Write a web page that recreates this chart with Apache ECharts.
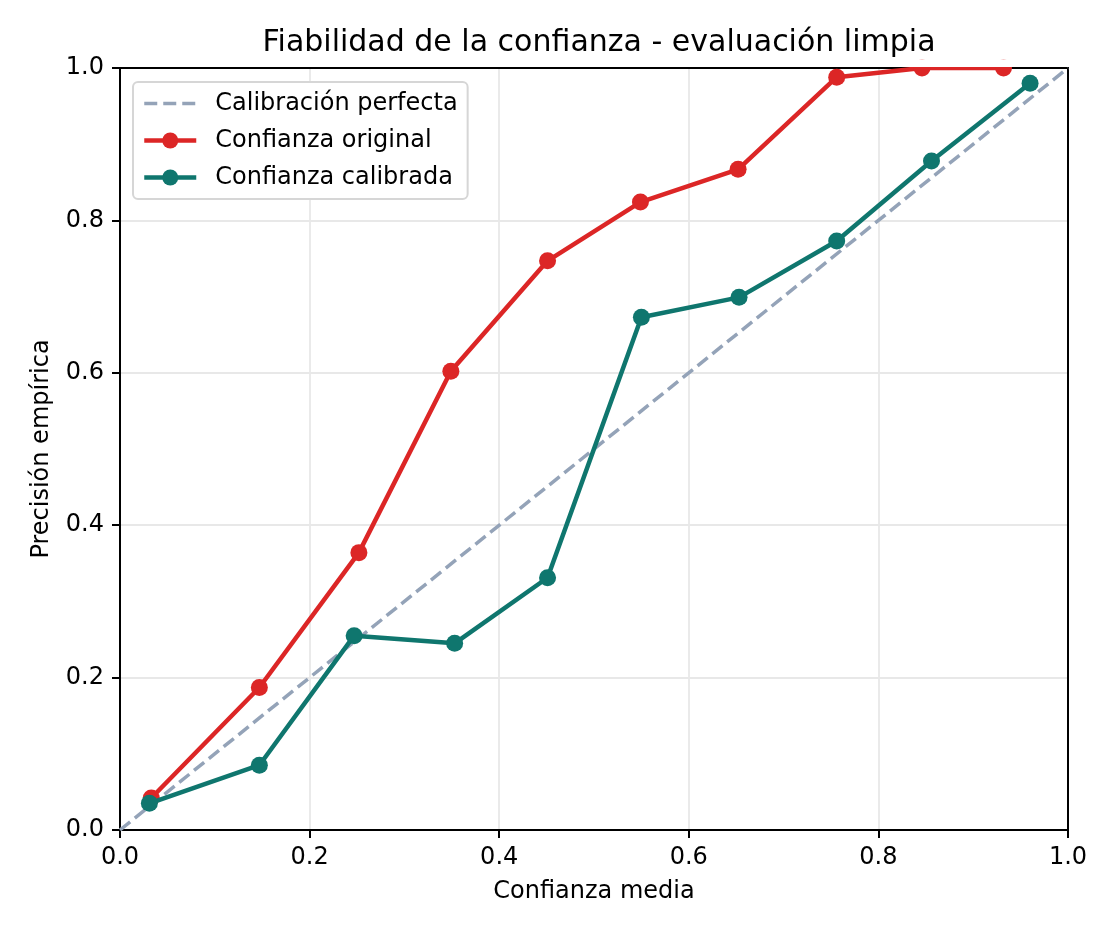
<!DOCTYPE html>
<html>
<head>
<meta charset="utf-8">
<script src="https://cdn.jsdelivr.net/npm/echarts@6/dist/echarts.min.js"></script>
<style>html,body{margin:0;padding:0;background:#fff}#c{width:1116px;height:936px}</style>
</head>
<body>
<div id="c"></div>
<script>
const titleText = 'Fiabilidad de la confianza - evaluación limpia';
const xName = 'Confianza media';
const yName = 'Precisión empírica';
const seriesNames = ['Calibración perfecta', 'Confianza original', 'Confianza calibrada'];
const perfectLine = [[0, 0], [1, 1]];
const originalX = [0.033, 0.147, 0.252, 0.349, 0.451, 0.549, 0.652, 0.756, 0.846, 0.932];
const originalY = [0.042, 0.187, 0.364, 0.602, 0.747, 0.824, 0.867, 0.988, 1.0, 1.0];
const calibratedX = [0.031, 0.147, 0.247, 0.353, 0.451, 0.550, 0.653, 0.756, 0.856, 0.960];
const calibratedY = [0.035, 0.085, 0.255, 0.245, 0.331, 0.673, 0.699, 0.773, 0.878, 0.980];

const zip = (xs, ys) => xs.map((x, i) => [x, ys[i]]);
const font = 'DejaVu Sans';
const chart = echarts.init(document.getElementById('c'), null, {renderer: 'canvas'});
const axisCommon = {
  type: 'value', min: 0, max: 1, interval: 0.2,
  axisLine: {show: true, lineStyle: {color: '#000', width: 2}},
  axisTick: {show: true, inside: false, length: 8, lineStyle: {color: '#000', width: 2}},
  axisLabel: {color: '#000', fontFamily: font, fontSize: 24, margin: 16, formatter: v => v.toFixed(1)},
  splitLine: {show: true, lineStyle: {color: '#e8e8e8', width: 1.8}},
  nameLocation: 'middle',
  nameTextStyle: {color: '#000', fontFamily: font, fontSize: 24}
};
const spine = {
  type: 'value', min: 0, max: 1, interval: 0.2,
  axisLine: {show: true, onZero: false, lineStyle: {color: '#000', width: 2}},
  axisTick: {show: false}, axisLabel: {show: false}, splitLine: {show: false}
};
chart.setOption({
  animation: false,
  backgroundColor: '#fff',
  title: {text: titleText, left: 594, textAlign: 'center', top: 23, textStyle: {fontFamily: font, fontSize: 30, fontWeight: 'normal', color: '#000'}},
  grid: {left: 120, right: 48, top: 68, bottom: 106, show: false},
  legend: {
    orient: 'vertical', left: 133, top: 82,
    padding: [9, 10, 9, 9], itemGap: 12, itemWidth: 52, itemHeight: 20,
    backgroundColor: '#fff', borderColor: '#d6d6d6', borderWidth: 2, borderRadius: 5,
    textStyle: {fontFamily: font, fontSize: 24, color: '#000', lineHeight: 25, padding: [0, 0, 0, 14]},
    data: [
      {name: seriesNames[0], itemStyle: {color: 'rgba(0,0,0,0)'}, lineStyle: {width: 3.5}},
      {name: seriesNames[1], lineStyle: {width: 4.5}},
      {name: seriesNames[2], lineStyle: {width: 4.5}}
    ]
  },
  xAxis: [Object.assign({}, axisCommon, {name: xName, nameGap: 50}), Object.assign({}, spine, {position: 'top'})],
  yAxis: [Object.assign({}, axisCommon, {name: yName, nameGap: 66}), Object.assign({}, spine, {position: 'right'})],
  graphic: [{type: 'rect', shape: {x: 110, y: 59.5, width: 970, height: 7.5}, style: {fill: '#fff'}, z: 100, silent: true}],
  series: [
    {name: seriesNames[0], type: 'line', data: perfectLine, symbol: 'none', z: 1,
     lineStyle: {color: '#94a3b8', width: 3.5, type: [13, 6]}, itemStyle: {color: '#94a3b8'}},
    {name: seriesNames[1], type: 'line', data: zip(originalX, originalY), symbol: 'circle', symbolSize: 17, clip: false, z: 3,
     lineStyle: {color: '#dc2626', width: 4.5}, itemStyle: {color: '#dc2626'}},
    {name: seriesNames[2], type: 'line', data: zip(calibratedX, calibratedY), symbol: 'circle', symbolSize: 17, clip: false, z: 4,
     lineStyle: {color: '#0f766e', width: 4.5}, itemStyle: {color: '#0f766e'}}
  ]
});
</script>
</body>
</html>
